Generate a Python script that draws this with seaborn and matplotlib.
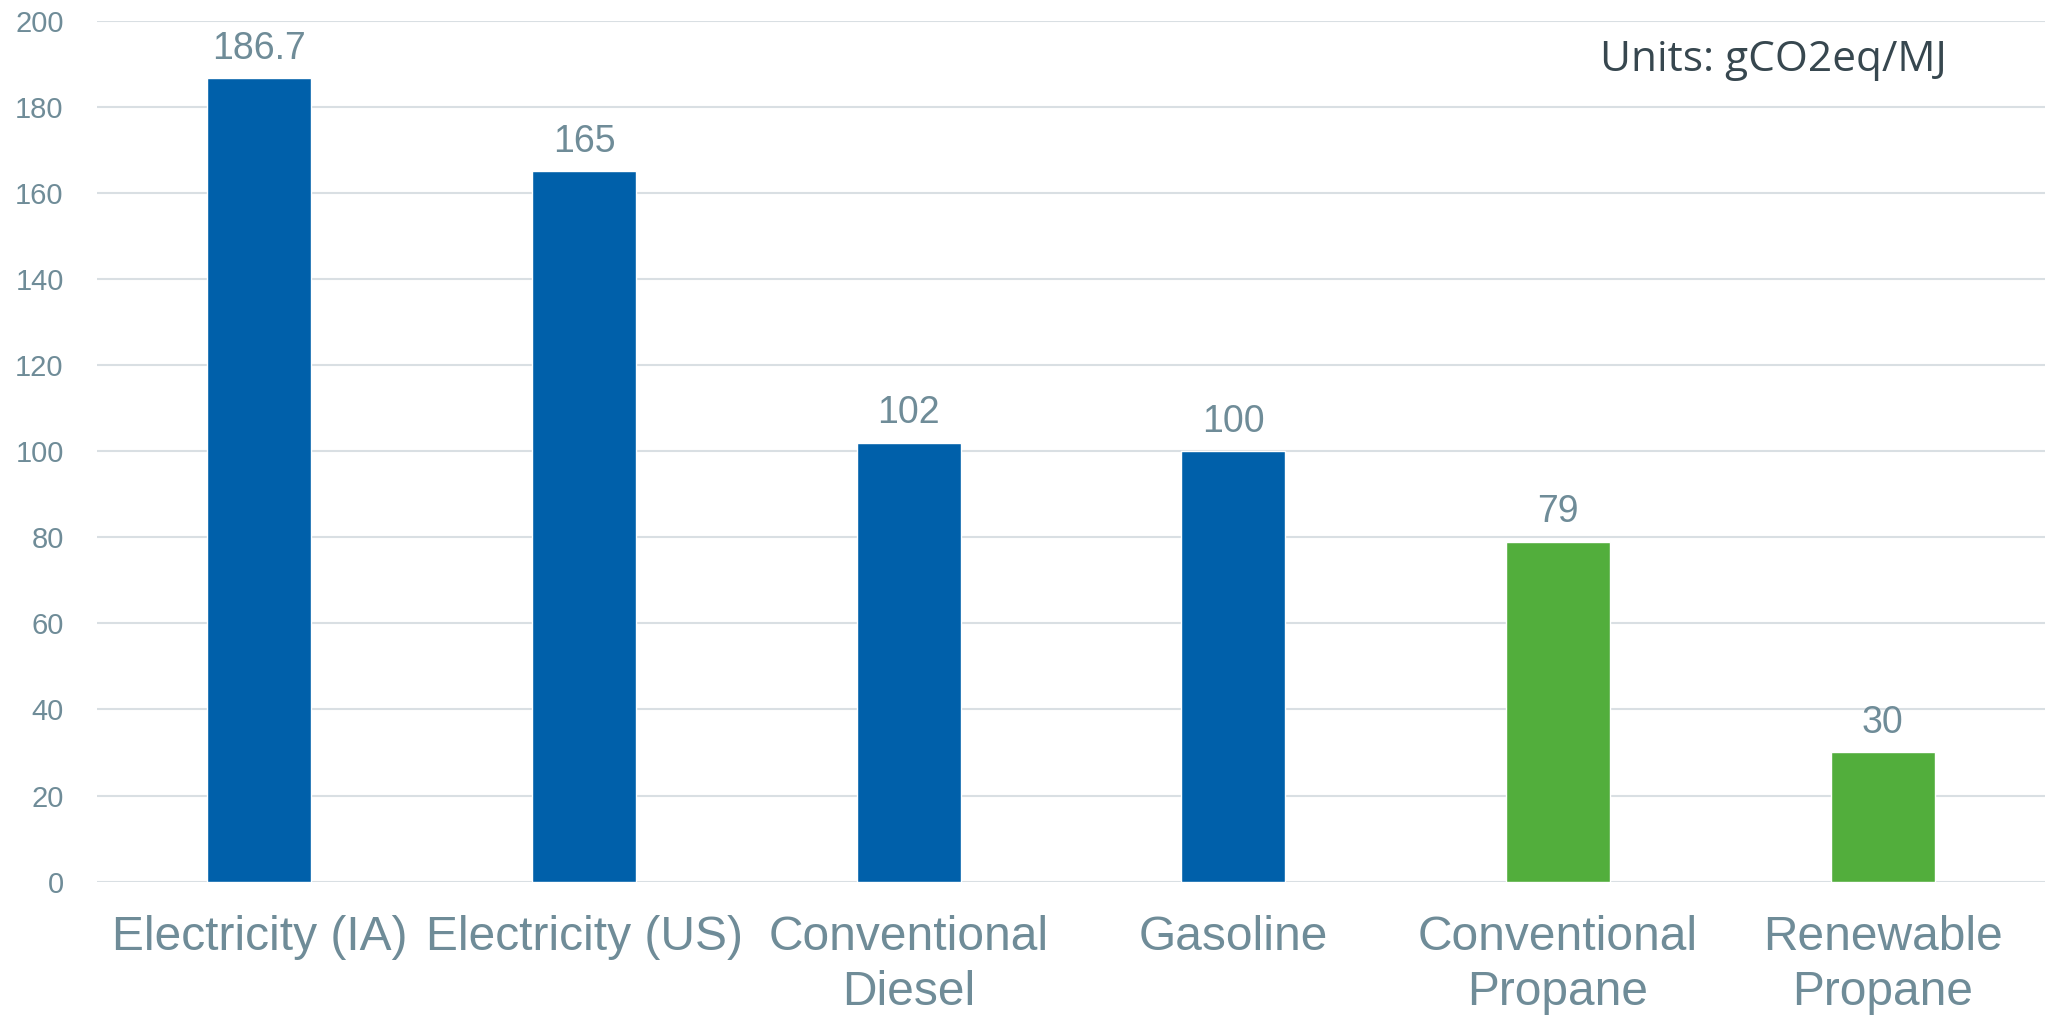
import matplotlib
matplotlib.use("Agg")
import matplotlib.pyplot as plt
import seaborn as sns
import pandas as pd
from matplotlib.patches import Circle

categories = ["Electricity (IA)", "Electricity (US)", "Conventional\nDiesel",
              "Gasoline", "Conventional\nPropane", "Renewable\nPropane"]
values = [186.7, 165, 102, 100, 79, 30]
value_labels = ["186.7", "165", "102", "100", "79", "30"]
bar_colors = ["#0060AA", "#0060AA", "#0060AA", "#0060AA", "#52AE3C", "#52AE3C"]
yticks = [0, 20, 40, 60, 80, 100, 120, 140, 160, 180, 200]

sns.set_theme(style="white")
plt.rcParams['font.family'] = ['Liberation Sans', 'DejaVu Sans']

W, H, DPI = 2045, 1017, 100
fig = plt.figure(figsize=(W / DPI, H / DPI), dpi=DPI)
fig.patch.set_facecolor("white")

# faint decorative circle bottom-right
circ = Circle((2090 / W, 1 - 1290 / H), 395 / W, transform=fig.transFigure,
              facecolor="#F1F7EE", edgecolor="none", zorder=0)
fig.add_artist(circ)

ax = fig.add_axes([97 / W, 1 - 881.6 / H, 1 - 97 / W, (881.6 - 20.7) / H])
ax.set_facecolor("none")
ax.set_zorder(1)

df = pd.DataFrame({"cat": categories, "val": values})
sns.barplot(data=df, x="cat", y="val", hue="cat", palette=bar_colors,
            width=0.32, legend=False, ax=ax, saturation=1, zorder=3)

ax.set_ylim(0, 200)
ax.set_yticks(yticks)
ax.yaxis.grid(True, color="#D9DFE3", linewidth=1.5, zorder=0)
ax.set_axisbelow(True)
for s in ax.spines.values():
    s.set_visible(False)

label_color = "#6F8C98"
ax.tick_params(axis="y", length=0, pad=24, labelsize=21, labelcolor=label_color)
ax.tick_params(axis="x", length=0, pad=24, labelsize=34.5, labelcolor=label_color)
for t in ax.get_xticklabels():
    t.set_linespacing(1.3)
ax.set_xlabel("")
ax.set_ylabel("")

for cont in ax.containers:
    labs = []
    for bar in cont:
        idx = int(round(bar.get_x() + bar.get_width() / 2))
        labs.append(value_labels[idx])
    ax.bar_label(cont, labels=labs, padding=8, fontsize=27, color=label_color)

fig.text(1600 / W, 1 - 60 / H, "Units: gCO2eq/MJ", fontsize=30.5, color="#37474F",
         family=["Open Sans", "DejaVu Sans"], va="center", ha="left")

fig.savefig("out.png", dpi=DPI, facecolor="white")
